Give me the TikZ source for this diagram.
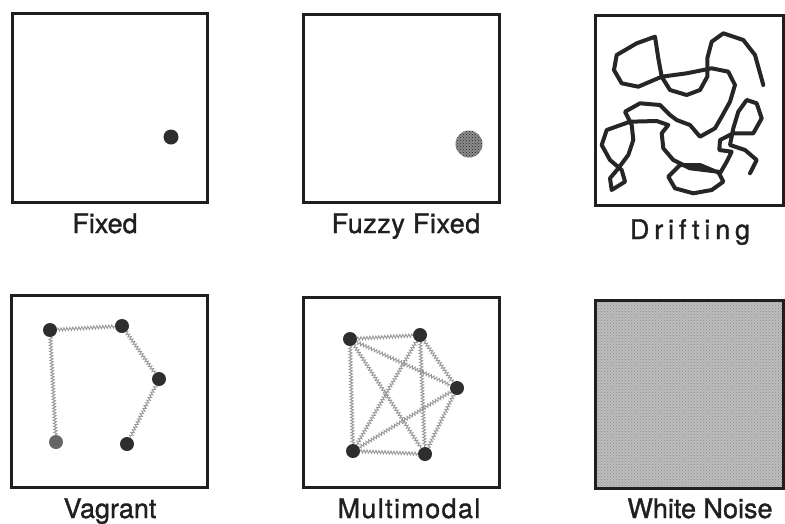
\documentclass[tikz,border=0pt]{standalone}
\usepackage{fontspec}
\setmainfont[FakeBold=1.2]{TeX Gyre Heros}
\newfontfamily\lblfont[FakeBold=1.2]{TeX Gyre Heros}
\usetikzlibrary{decorations.pathmorphing,patterns}
\begin{document}
\begin{tikzpicture}[x=1pt,y=-1pt,
  frame/.style={draw=black!88,line width=3pt},
  dot/.style={circle,fill=black!82,inner sep=0pt,minimum size=14pt},
  greydot/.style={circle,fill=black!60,inner sep=0pt,minimum size=14pt},
  wavy/.style={draw=black!40,line width=0.9pt,decorate,decoration={zigzag,segment length=3pt,amplitude=1.6pt}},
  lbl/.style={anchor=base,inner sep=0pt,text=black!88,font=\lblfont\fontsize{27}{30}\selectfont},
  drift/.style={draw=black!85,line width=4pt,line join=round,line cap=round}]
\useasboundingbox (0,0) rectangle (785,523);
\fill[white] (0,0) rectangle (785,523);
% frames
\draw[frame] (12,13) rectangle (207,202);
\draw[frame] (303,14) rectangle (499,202);
\draw[frame] (595,15) rectangle (783,205);
\draw[frame] (11,295) rectangle (207,487);
\draw[frame] (303,297) rectangle (499,487);
\fill[black!26] (595,300) rectangle (783,488);
\fill[pattern=crosshatch dots,pattern color=black!45] (595,300) rectangle (783,488);
\draw[frame] (595,300) rectangle (783,488);
% Fixed
\node[dot,minimum size=15pt] (fx) at (171,137) {};
% Fuzzy fixed
\node[circle,minimum size=27pt,inner sep=0pt,fill=black!45] (fz) at (469,144) {};
\fill[pattern=crosshatch dots,pattern color=black!85] (fz.center) circle (13.5);
% Drifting
\draw[drift] (763.3,85) -- (755,55) -- (743.3,40) -- (723.3,33.3) -- (711.7,41.7) -- (707.3,58.3) -- (707.3,76.7) -- (700,90) -- (686.7,95) -- (670,90) -- (661.7,76.7) -- (658.3,58.3) -- (655,36.7) -- (636.7,43.3) -- (616.7,55) -- (614,70) -- (621.7,83.3) -- (638.3,86.7) -- (661.7,76.7) -- (686.7,73.3) -- (711.7,68.3) -- (728.3,71.7) -- (735,85) -- (730,101.7) -- (721.7,116.7) -- (715,128.3) -- (700,136.7) -- (690,125) -- (676.7,120) -- (670,115) -- (660,105) -- (640,103.3) -- (625,111.7) -- (631.7,125) -- (633.3,140) -- (628.3,155) -- (618.3,168.3) -- (610,178.3) -- (611.7,190) -- (625,181.7) -- (621.7,170) -- (610,160) -- (601.7,145) -- (606.7,130) -- (630,121.7) -- (656.7,121) -- (668.3,125) -- (661.7,133.3) -- (663.3,148.3) -- (673.3,160) -- (690,168.3) -- (718.3,171.7) -- (723.3,181.7) -- (711.7,190) -- (693.3,193.3) -- (675,188.3) -- (668.3,176.7) -- (680,165) -- (700,165) -- (720,173.3) -- (726.7,161.7) -- (731.7,151.7) -- (719.3,150) -- (720,140) -- (733.3,133.3) -- (753.3,133.3) -- (761.7,118.3) -- (756.7,103.3) -- (746.7,100) -- (738.3,111.7) -- (733.3,128.3) -- (730,145) -- (745,150) -- (756.7,160) -- (750,173.3);
% Vagrant
\node[dot] (v1) at (50,330) {};
\node[dot] (v2) at (122,326) {};
\node[dot] (v3) at (159,379) {};
\node[dot] (v4) at (127,444) {};
\node[greydot] (v5) at (56,442) {};
\draw[wavy] (v1) -- (v2);
\draw[wavy] (v2) -- (v3);
\draw[wavy] (v3) -- (v4);
\draw[wavy] (v1) -- (v5);
% Multimodal
\node[dot] (m1) at (350,339) {};
\node[dot] (m2) at (420,335) {};
\node[dot] (m3) at (457,388) {};
\node[dot] (m4) at (353,451) {};
\node[dot] (m5) at (425,454) {};
\foreach \a/\b in {m1/m2,m1/m3,m1/m4,m1/m5,m2/m3,m2/m4,m2/m5,m3/m4,m3/m5,m4/m5}
  \draw[wavy] (\a) -- (\b);
% labels
\node[lbl] (l1) at (105,233) {Fixed};
\node[lbl] (l2) at (406,233) {\addfontfeatures{LetterSpace=2}Fuzzy Fixed};
\node[lbl] (l3) at (690,239) {\addfontfeatures{LetterSpace=18}Drifting};
\node[lbl] (l4) at (110,518) {Vagrant};
\node[lbl] (l5) at (409,518) {\addfontfeatures{LetterSpace=5}Multimodal};
\node[lbl] (l6) at (700,518) {White Noise};
\end{tikzpicture}
\end{document}
